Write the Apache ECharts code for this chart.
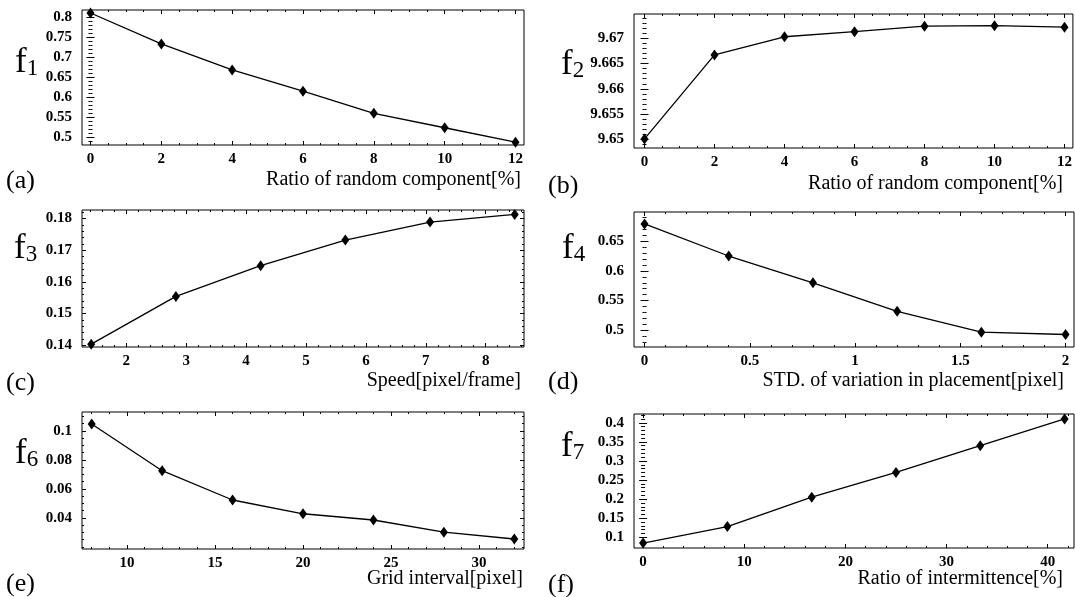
<!DOCTYPE html>
<html>
<head>
<meta charset="utf-8">
<script src="https://cdn.jsdelivr.net/npm/echarts@6/dist/echarts.min.js"></script>
<style>
html, body { margin: 0; padding: 0; background: #fff; }
#main { width: 1075px; height: 597px; }
</style>
</head>
<body>
<div id="main"></div>
<script>
// data
var aX = [0, 2, 4, 6, 8, 10, 12];
var aY = [0.81, 0.733, 0.668, 0.615, 0.56, 0.524, 0.488];
var bX = [0, 2, 4, 6, 8, 10, 12];
var bY = [9.6501, 9.6667, 9.6703, 9.6713, 9.6724, 9.6725, 9.6722];
var cX = [1.414, 2.828, 4.243, 5.657, 7.071, 8.485];
var cY = [0.1403, 0.1554, 0.1651, 0.1732, 0.1789, 0.1813];
var dX = [0, 0.4, 0.8, 1.2, 1.6, 2];
var dY = [0.679, 0.625, 0.58, 0.532, 0.497, 0.493];
var eX = [8, 12, 16, 20, 24, 28, 32];
var eY = [0.1048, 0.0726, 0.0524, 0.0429, 0.0386, 0.0302, 0.0255];
var fX = [0, 8.33, 16.67, 25, 33.33, 41.67];
var fY = [0.085, 0.128, 0.205, 0.27, 0.34, 0.41];

// tick labels
var aXTicks = [0, 2, 4, 6, 8, 10, 12];
var aYTicks = [0.5, 0.55, 0.6, 0.65, 0.7, 0.75, 0.8];
var bXTicks = [0, 2, 4, 6, 8, 10, 12];
var bYTicks = [9.65, 9.655, 9.66, 9.665, 9.67];
var cXTicks = [2, 3, 4, 5, 6, 7, 8];
var cYTicks = [0.14, 0.15, 0.16, 0.17, 0.18];
var dXTicks = [0, 0.5, 1, 1.5, 2];
var dYTicks = [0.5, 0.55, 0.6, 0.65];
var eXTicks = [10, 15, 20, 25, 30];
var eYTicks = [0.04, 0.06, 0.08, 0.1];
var fXTicks = [0, 10, 20, 30, 40];
var fYTicks = [0.1, 0.15, 0.2, 0.25, 0.3, 0.35, 0.4];

var xTitles = ['Ratio of random component[%]', 'Ratio of random component[%]', 'Speed[pixel/frame]',
	'STD. of variation in placement[pixel]', 'Grid interval[pixel]', 'Ratio of intermittence[%]'];
var yNames = ['1', '2', '3', '4', '6', '7'];
var letters = ['(a)', '(b)', '(c)', '(d)', '(e)', '(f)'];

var FONT = 'Liberation Serif';

var panels = [
	{ x: aX, y: aY, xt: aXTicks, yt: aYTicks, xr: [-0.24, 12.24], yr: [0.481, 0.8175], xm: 0.5, ym: 0.01,
		grid: { left: 82, top: 10, width: 442, height: 135 }, fl: [15, 64], lt: [6, 182], tt: [521, 182] },
	{ x: bX, y: bY, xt: bXTicks, yt: bYTicks, xr: [-0.3, 12.24], yr: [9.6483, 9.6748], xm: 0.5, ym: 0.001,
		grid: { left: 634, top: 14, width: 440, height: 134 }, fl: [561, 66], lt: [548, 187], tt: [1063, 186] },
	{ x: cX, y: cY, xt: cXTicks, yt: cYTicks, xr: [1.26, 8.64], yr: [0.1394, 0.1827], xm: 0.2, ym: 0.002,
		grid: { left: 82, top: 210, width: 442, height: 137 }, fl: [14, 250], lt: [6, 384], tt: [521, 383] },
	{ x: dX, y: dY, xt: dXTicks, yt: dYTicks, xr: [-0.05, 2.04], yr: [0.472, 0.699], xm: 0.1, ym: 0.01,
		grid: { left: 634, top: 212, width: 440, height: 135 }, fl: [562, 250], lt: [548, 383], tt: [1064, 383] },
	{ x: eX, y: eY, xt: eXTicks, yt: eYTicks, xr: [7.45, 32.55], yr: [0.0186, 0.1131], xm: 1, ym: 0.005,
		grid: { left: 82, top: 412, width: 442, height: 137 }, fl: [15, 455], lt: [6, 585], tt: [523, 581] },
	{ x: fX, y: fY, xt: fXTicks, yt: fYTicks, xr: [-0.9, 42.6], yr: [0.072, 0.423], xm: 2, ym: 0.01,
		grid: { left: 634, top: 414, width: 440, height: 134 }, fl: [561, 448], lt: [548, 586], tt: [1063, 581] }
];

var minorValues = function(r, step) {
	var out = [];
	var v = Math.ceil(r[0] / step) * step;
	while (v <= r[1]) {
		out.push(+v.toFixed(6));
		v += step;
	}
	return out;
};

var grids = [], xAxes = [], yAxes = [], series = [], graphics = [];

panels.forEach(function(p, i) {
	var g = p.grid;
	grids.push({ left: g.left, top: g.top, width: g.width, height: g.height,
		show: true, borderColor: '#000', borderWidth: 1, backgroundColor: 'transparent' });

	var xMinor = minorValues(p.xr, p.xm);
	var yMinor = minorValues(p.yr, p.ym);
	var pos = [['bottom', p.xt, 4, true], ['bottom', xMinor, 2, false], ['top', p.xt, 4, false], ['top', xMinor, 2, false]];
	pos.forEach(function(a) {
		xAxes.push({
			type: 'value', gridIndex: i, position: a[0], min: p.xr[0], max: p.xr[1],
			axisLine: { show: false }, splitLine: { show: false },
			axisTick: { show: true, inside: true, length: a[2], customValues: a[1], lineStyle: { color: '#000', width: 1 } },
			axisLabel: { show: a[3], customValues: a[1], margin: 7, color: '#000', fontFamily: FONT,
				fontWeight: 'bold', fontSize: 15, formatter: function(v) { return String(v); } }
		});
	});
	var ypos = [['left', p.yt, 4, true], ['left', yMinor, 2, false], ['right', p.yt, 4, false], ['right', yMinor, 2, false]];
	ypos.forEach(function(a) {
		yAxes.push({
			type: 'value', gridIndex: i, position: a[0], min: p.yr[0], max: p.yr[1],
			axisLine: { show: false }, splitLine: { show: false },
			axisTick: { show: true, inside: true, length: a[2], customValues: a[1], lineStyle: { color: '#000', width: 1 } },
			axisLabel: { show: a[3], customValues: a[1], margin: 10, color: '#000', fontFamily: FONT,
				fontWeight: 'bold', fontSize: 15, formatter: function(v) { return String(v); } }
		});
	});

	series.push({
		type: 'line', xAxisIndex: i * 4, yAxisIndex: i * 4,
		data: p.x.map(function(x, j) { return [x, p.y[j]]; }),
		symbol: 'diamond', symbolSize: [8, 11],
		lineStyle: { color: '#000', width: 1.3 },
		itemStyle: { color: '#000' },
		animation: false
	});

	graphics.push({
		type: 'text', left: p.fl[0], top: p.fl[1] - 19,
		style: { text: '{f|f}{n|' + yNames[i] + '}', fill: '#000',
			rich: {
				f: { fontFamily: FONT, fontSize: 35, verticalAlign: 'bottom', fill: '#000' },
				n: { fontFamily: FONT, fontSize: 23, verticalAlign: 'bottom', fill: '#000' }
			} }
	});
	graphics.push({
		type: 'text', left: p.lt[0], top: p.lt[1] - 14,
		style: { text: letters[i], fontFamily: FONT, fontSize: 26, fill: '#000' }
	});
	graphics.push({
		type: 'text', right: 1075 - p.tt[0], top: p.tt[1] - 12,
		style: { text: xTitles[i], fontFamily: FONT, fontSize: 20, fill: '#000' }
	});
});

var chart = echarts.init(document.getElementById('main'));
chart.setOption({
	backgroundColor: '#fff',
	animation: false,
	grid: grids,
	xAxis: xAxes,
	yAxis: yAxes,
	series: series,
	graphic: graphics
});
</script>
</body>
</html>
